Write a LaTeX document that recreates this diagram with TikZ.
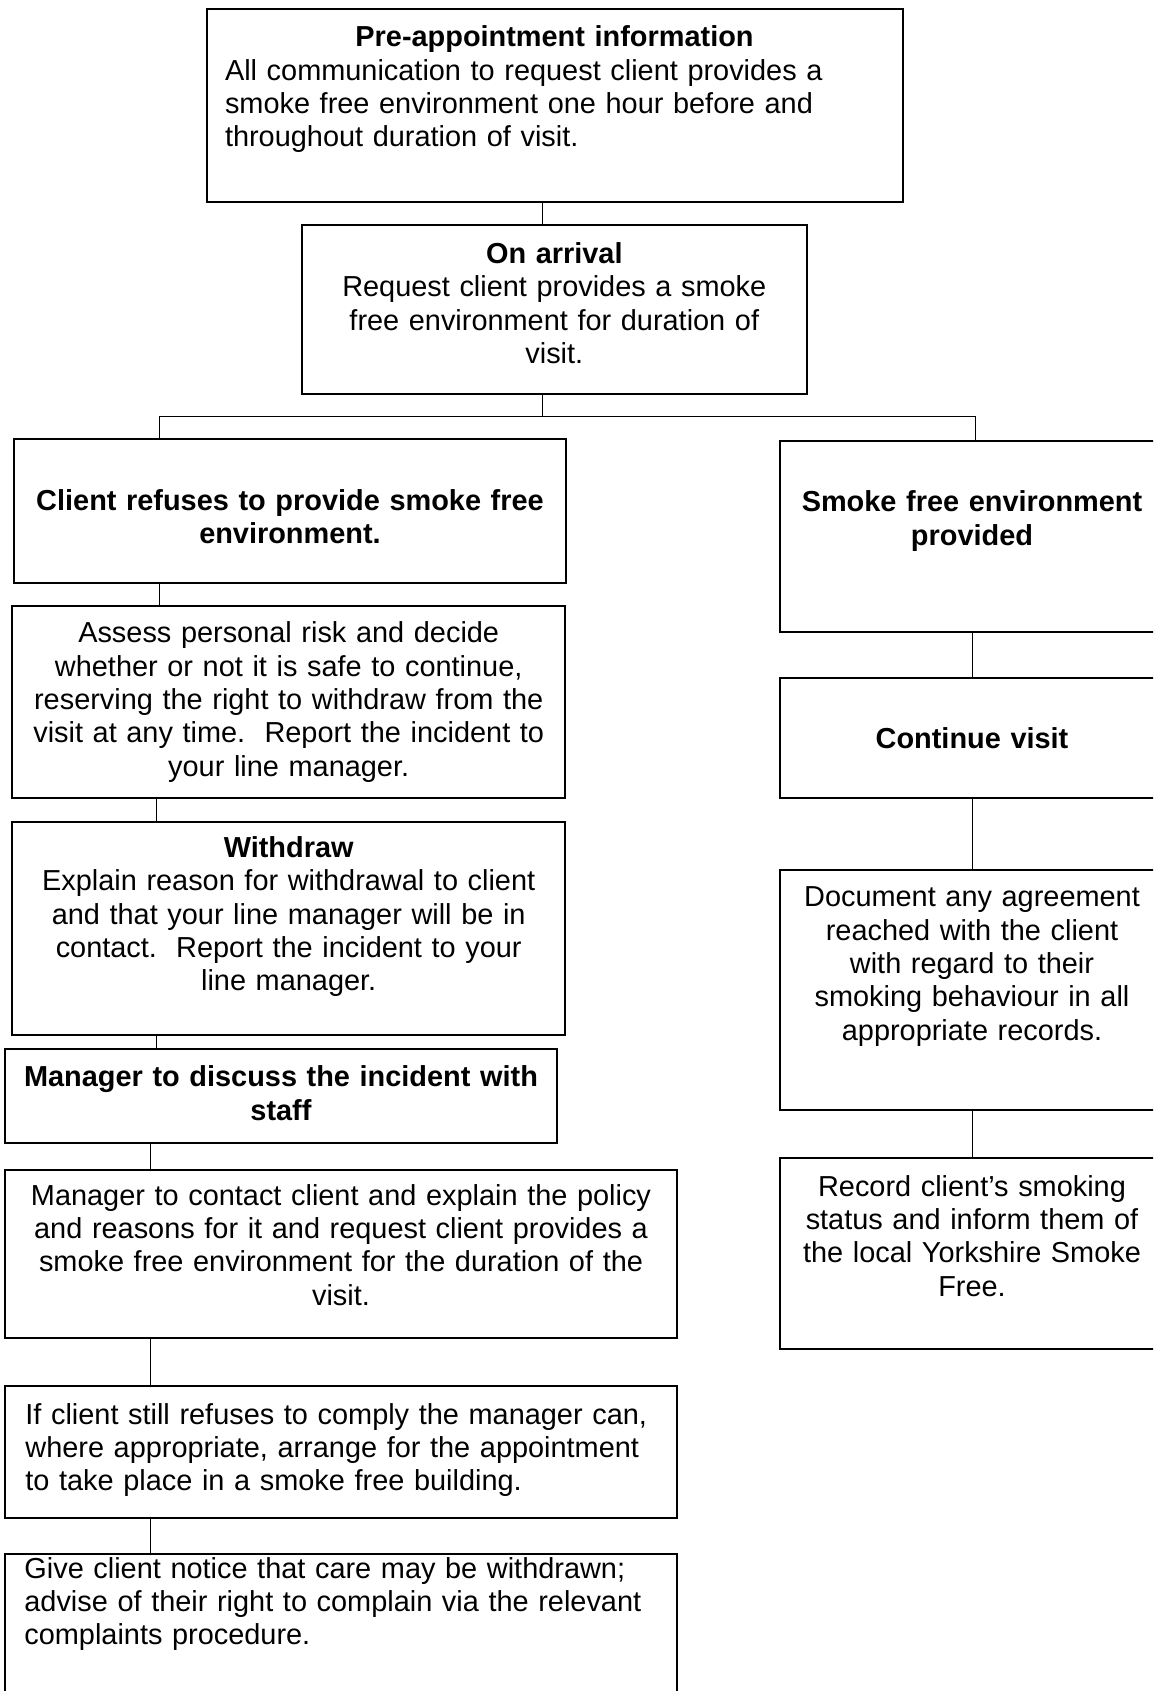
\documentclass[tikz,border=0pt]{standalone}
\usepackage{fontspec}
\setmainfont{Liberation Sans}
\usetikzlibrary{calc}

\tikzset{
  box/.style={draw, line width=1pt, inner sep=0pt},
  txt/.style={anchor=base, inner sep=0pt, align=center,
              font=\fontsize{14.45pt}{16.7pt}\selectfont\frenchspacing},
  link/.style={draw, line width=0.5pt},
}

\begin{document}
\begin{tikzpicture}[x=0.5pt, y=-0.5pt]
  \useasboundingbox (0,0) rectangle (1153,1691);
  \clip (0,0) rectangle (1153,1691);

  % boxes
  \node [box, minimum width=348pt,    minimum height=96pt]     (pre)      at (554.5, 105.5) {};
  \node [box, minimum width=252.3pt,  minimum height=84.5pt]   (arrive)   at (554.3, 309.5) {};
  \node [box, minimum width=276pt,    minimum height=71.85pt]  (refuse)   at (290,   510.9) {};
  \node [box, minimum width=192pt,    minimum height=95.65pt]  (provided) at (972,   536.4) {};
  \node [box, minimum width=276.25pt, minimum height=96pt]     (assess)   at (288.7, 701.7) {};
  \node [box, minimum width=192pt,    minimum height=60pt]     (cont)     at (972,   737.7) {};
  \node [box, minimum width=276.25pt, minimum height=106.65pt] (withdraw) at (288.7, 928.4) {};
  \node [box, minimum width=276pt,    minimum height=47pt]     (discuss)  at (281,  1096.3) {};
  \node [box, minimum width=192pt,    minimum height=120.15pt] (document) at (972,   989.9) {};
  \node [box, minimum width=336pt,    minimum height=84pt]     (contact)  at (341,  1253.6) {};
  \node [box, minimum width=192pt,    minimum height=95.8pt]   (record)   at (972,  1253.5) {};
  \node [box, minimum width=336pt,    minimum height=65.8pt]   (ifstill)  at (341,  1452)   {};
  \node [box, minimum width=336pt,    minimum height=83pt]     (notice)   at (341,  1637)   {};

  % texts
  \node [txt, text width=329.5pt, align=left] (pre-t) at (554.5, 46.7)
    {{\centering\textbf{Pre-appointment information}\par}
     All communication to request client provides a\\
     smoke free environment one hour before and\\
     throughout duration of visit.};
  \node [txt, text width=240pt] (arrive-t) at (554.3, 263.3)
    {\textbf{On arrival}\\ Request client provides a smoke\\ free environment for duration of\\ visit.};
  \node [txt, text width=265pt] (refuse-t) at (290, 510)
    {\textbf{Client refuses to provide smoke free}\\ \textbf{environment.}};
  \node [txt, text width=185pt] (provided-t) at (972, 511.7)
    {\textbf{Smoke free environment}\\ \textbf{provided}};
  \node [txt, text width=265pt] (assess-t) at (288.7, 642.7)
    {Assess personal risk and decide\\ whether or not it is safe to continue,\\
     reserving the right to withdraw from the\\ visit at any time.~ Report the incident to\\
     your line manager.};
  \node [txt, text width=185pt] (cont-t) at (972, 748.3) {\textbf{Continue visit}};
  \node [txt, text width=265pt] (withdraw-t) at (288.7, 857.3)
    {\textbf{Withdraw}\\ Explain reason for withdrawal to client\\ and that your line manager will be in\\
     contact.~ Report the incident to your\\ line manager.};
  \node [txt, text width=265pt] (discuss-t) at (281, 1086.7)
    {\textbf{Manager to discuss the incident with}\\ \textbf{staff}};
  \node [txt, text width=185pt] (document-t) at (972, 906.7)
    {Document any agreement\\ reached with the client\\ with regard to their\\
     smoking behaviour in all\\ appropriate records.};
  \node [txt, text width=325pt] (contact-t) at (341, 1205)
    {Manager to contact client and explain the policy\\ and reasons for it and request client provides a\\
     smoke free environment for the duration of the\\ visit.};
  \node [txt, text width=185pt] (record-t) at (972, 1196)
    {Record client’s smoking\\ status and inform them of\\ the local Yorkshire Smoke\\ Free.};
  \node [txt, text width=322pt, align=left, anchor=base west] (ifstill-t) at (25, 1424)
    {If client still refuses to comply the manager can,\\ where appropriate, arrange for the appointment\\
     to take place in a smoke free building.};
  \node [txt, text width=322pt, align=left, anchor=base west] (notice-t) at (24, 1578)
    {Give client notice that care may be withdrawn;\\ advise of their right to complain via the relevant\\
     complaints procedure.};

  % connectors
  \coordinate (bus)   at (542.6, 416.7);
  \coordinate (lineA) at (159, 0);
  \coordinate (lineB) at (156.6, 0);
  \coordinate (lineC) at (150, 0);
  \coordinate (dropR) at (975, 0);
  \coordinate (lineR) at (972.5, 0);

  \path [link] (pre.south -| bus) edge (arrive.north -| bus);
  \path [link] (arrive.south -| bus) edge (bus);
  \draw [link] (refuse.north -| lineA) |- (bus) -| (provided.north -| dropR);

  \path [link] (refuse.south -| lineA)   edge (assess.north -| lineA);
  \path [link] (assess.south -| lineB)   edge (withdraw.north -| lineB);
  \path [link] (withdraw.south -| lineB) edge (discuss.north -| lineB);
  \path [link] (discuss.south -| lineC)  edge (contact.north -| lineC);
  \path [link] (contact.south -| lineC)  edge (ifstill.north -| lineC);
  \path [link] (ifstill.south -| lineC)  edge (notice.north -| lineC);

  \path [link] (provided.south -| lineR) edge (cont.north -| lineR);
  \path [link] (cont.south -| lineR)     edge (document.north -| lineR);
  \path [link] (document.south -| lineR) edge (record.north -| lineR);
\end{tikzpicture}
\end{document}
